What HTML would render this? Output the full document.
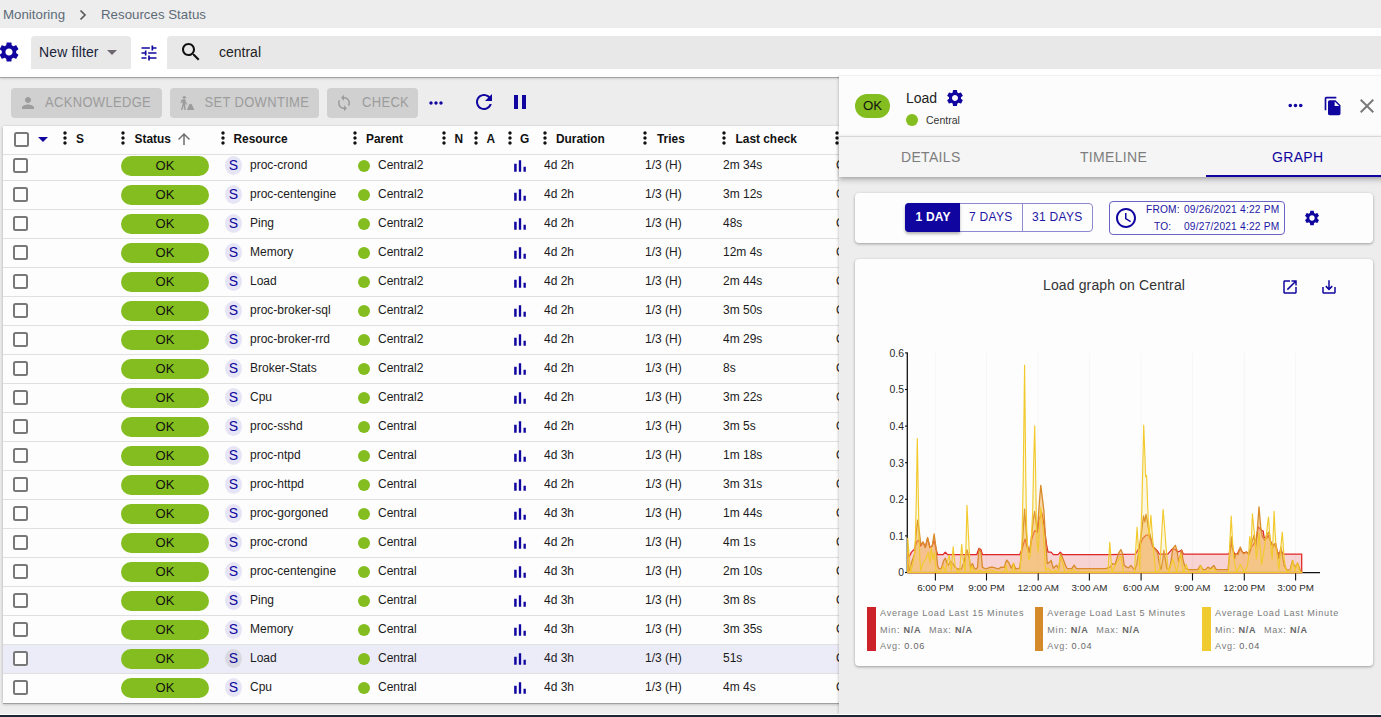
<!DOCTYPE html><html><head><meta charset="utf-8"><title>Resources Status</title><style>
*{box-sizing:border-box;margin:0;padding:0}
html,body{width:1381px;height:717px;overflow:hidden;background:#ededed;font-family:"Liberation Sans",sans-serif;color:#242f3a}
.abs{position:absolute}
.ic{position:absolute;display:block}
.t{position:absolute;white-space:nowrap;line-height:1}
#bc{left:0;top:0;width:1381px;height:28px;background:#ededed}
#fb{left:0;top:28px;width:1381px;height:49px;background:#fff;box-shadow:0 1px 0 #a2a2a2,0 2px 2px rgba(0,0,0,.12)}
.fbox{background:#e8e8e8;border-radius:4px 4px 0 0;top:36px;height:33px}
.btn{top:88px;height:30px;background:#d0d0d0;border-radius:4px}
#tbl{left:3px;top:126px;width:840px;height:577px;background:#fdfdfd;box-shadow:0 1px 0 #a0a0a0,0 1px 3px rgba(0,0,0,.3)}
.hd{font-weight:bold;font-size:11.900px;color:#111;top:134px}
.row{position:absolute;left:3px;width:840px;height:29px;border-top:1px solid #e0e0e0;font-size:12px}
.row.sel{background:#ecebf8}
.cb{position:absolute;left:10.200px;width:15px;height:15px;border:2px solid #787878;border-radius:2.500px;background:#fdfdfd}
.pill{position:absolute;left:118px;top:4px;width:88px;height:20px;border-radius:10px;background:#84bd1f;color:#111;font-size:13px;text-align:center;line-height:20px}
.chip{position:absolute;left:222px;top:4px;width:17px;height:19px;border-radius:8.500px/9.500px;background:#e6e5f5;color:#10069f;font-size:14px;text-align:center;line-height:18px}
.row.sel .chip{background:#d9d9e1}
.dot{position:absolute;width:12px;height:12px;border-radius:6px;background:#84bd1f}
.c{position:absolute;top:7px;white-space:nowrap;line-height:1;color:#1b1b1b}
#pn{left:839px;top:76px;width:550px;height:638px;background:#ededed;box-shadow:-1px 0 2px rgba(0,0,0,.16)}
#ph{left:839px;top:76px;width:550px;height:60px;background:#fcfcfc}
#tabs{left:839px;top:136px;width:550px;height:41px;background:#f5f5f5;box-shadow:0 2px 4px -1px rgba(0,0,0,.2),0 4px 5px 0 rgba(0,0,0,.14),0 -1px 3px rgba(0,0,0,.05);border-top:1px solid #d8d8d8}
.tab{position:absolute;top:150px;font-size:14px;letter-spacing:.32px;color:#7d7d7d;white-space:nowrap;line-height:1}
.card{background:#fdfdfd;border-radius:4px;box-shadow:0 1px 3px rgba(0,0,0,.35)}
.lg{position:absolute;font-size:9.100px;letter-spacing:.75px;color:#7b7b7b;white-space:nowrap;line-height:1}
.lg b{color:#666}
.ax{font-size:9.800px;fill:#2a2a2a;font-family:"Liberation Sans",sans-serif}
</style></head><body><div class="abs" id="bc"></div>
<div class="t" style="left:3px;top:7.500px;font-size:13.300px;color:#5d6b78">Monitoring</div>
<svg class="ic" style="left:78px;top:9px;width:10px;height:12px" viewBox="0 0 10 12"><path d="M2.5 1.5L7 6L2.5 10.500" fill="none" stroke="#5a5a5a" stroke-width="1.700"/></svg>
<div class="t" style="left:101px;top:7.500px;font-size:13.300px;color:#5d6b78">Resources Status</div>
<div class="abs" id="fb"></div>
<svg class="ic" style="left:-3.2px;top:40.3px;width:24px;height:24px;" viewBox="0 0 24 24"><path fill="#10069f" d="M19.14 12.94c.04-.3.06-.61.06-.94 0-.32-.02-.64-.07-.94l2.03-1.58c.18-.14.23-.41.12-.61l-1.92-3.32c-.12-.22-.37-.29-.59-.22l-2.39.96c-.5-.38-1.03-.7-1.62-.94l-.36-2.54c-.04-.24-.24-.41-.48-.41h-3.84c-.24 0-.43.17-.47.41l-.36 2.54c-.59.24-1.13.57-1.62.94l-2.39-.96c-.22-.08-.47 0-.59.22L2.74 8.87c-.12.21-.08.47.12.61l2.03 1.58c-.05.3-.09.63-.09.94s.02.64.07.94l-2.03 1.58c-.18.14-.23.41-.12.61l1.92 3.32c.12.22.37.29.59.22l2.39-.96c.5.38 1.03.7 1.62.94l.36 2.54c.05.24.24.41.48.41h3.84c.24 0 .44-.17.47-.41l.36-2.54c.59-.24 1.13-.56 1.62-.94l2.39.96c.22.08.47 0 .59-.22l1.92-3.32c.12-.22.07-.47-.12-.61l-2.01-1.58zM12 15.6c-1.98 0-3.6-1.62-3.6-3.6s1.62-3.6 3.6-3.6 3.6 1.62 3.6 3.6-1.62 3.6-3.6 3.6z"/></svg>
<div class="abs fbox" style="left:31px;width:100px"></div>
<div class="t" style="left:39px;top:45px;font-size:14px;letter-spacing:.13px;color:#1a1f3a">New filter</div>
<svg class="ic" style="left:107.200px;top:50px;width:10px;height:5px" viewBox="0 0 10 5"><path d="M0 0h10L5 5z" fill="#6d6870"/></svg>
<svg class="ic" style="left:139px;top:43px;width:20px;height:20px;" viewBox="0 0 24 24"><path fill="#10069f" d="M3 17v2h6v-2H3zM3 5v2h10V5H3zm10 16v-2h8v-2h-8v-2h-2v6h2zM7 9v2H3v2h4v2h2V9H7zm14 4v-2H11v2h10zm-6-4h2V7h4V5h-4V3h-2v6z"/></svg>
<div class="abs fbox" style="left:167px;width:1230px"></div>
<svg class="ic" style="left:179px;top:40px;width:24px;height:24px;" viewBox="0 0 24 24"><path fill="#111" d="M15.5 14h-.79l-.28-.27C15.41 12.59 16 11.11 16 9.5 16 5.91 13.09 3 9.5 3S3 5.91 3 9.5 5.91 16 9.5 16c1.61 0 3.09-.59 4.23-1.57l.27.28v.79l5 4.99L20.49 19l-4.99-5zm-6 0C7.01 14 5 11.99 5 9.5S7.01 5 9.5 5 14 7.01 14 9.5 11.99 14 9.5 14z"/></svg>
<div class="t" style="left:219px;top:45px;font-size:14px;color:#222">central</div>
<div class="abs btn" style="left:11px;width:151px"></div><svg class="ic" style="left:19.2px;top:94.0px;width:18px;height:18px;" viewBox="0 0 24 24"><path fill="#9c9c9c" d="M12 12c2.21 0 4-1.79 4-4s-1.79-4-4-4-4 1.79-4 4 1.79 4 4 4zm0 2c-2.67 0-8 1.34-8 4v2h16v-2c0-2.66-5.33-4-8-4z"/></svg><div class="t" style="left:45px;top:95.500px;font-size:13px;letter-spacing:.32px;color:#9c9c9c;transform:scaleY(1.1)">ACKNOWLEDGE</div>
<div class="abs btn" style="left:170px;width:149px"></div><svg class="ic" style="left:178px;top:94px;width:18px;height:18px" viewBox="0 0 18 18"><g fill="#9c9c9c"><circle cx="6.300" cy="3.400" r="1.350"/><rect x="4.300" y="2.900" width="4" height=".8" rx=".3"/><path d="M4.700 5.300L7.300 5.300L8 8.300L9.600 10.300L9 10.800L7.300 9L7.400 11L7.700 15.900L6.300 15.900L5.900 11.800L4.300 15.900L2.900 15.900L4.600 10.500L4.300 7L3.300 9.300L2.500 9L3.300 6.200Z"/><path d="M8.900 15.900L11.100 10.600Q12.500 8.700 13.900 10.600L16.400 15.900Z"/></g></svg><div class="t" style="left:204.5px;top:95.500px;font-size:13px;letter-spacing:.32px;color:#9c9c9c;transform:scaleY(1.1)">SET DOWNTIME</div>
<div class="abs btn" style="left:327px;width:91px"></div><svg class="ic" style="left:335px;top:94.0px;width:18px;height:18px;" viewBox="0 0 24 24"><path fill="#9c9c9c" d="M12 4V1L8 5l4 4V6c3.31 0 6 2.690 6 6 0 1.010-.25 1.970-.7 2.800l1.460 1.460C19.540 15.030 20 13.570 20 12c0-4.420-3.580-8-8-8zm0 14c-3.310 0-6-2.690-6-6 0-1.010.25-1.970.7-2.800L5.240 7.740C4.460 8.970 4 10.430 4 12c0 4.420 3.580 8 8 8v3l4-4-4-4v3z"/></svg><div class="t" style="left:362px;top:95.500px;font-size:13px;letter-spacing:.32px;color:#9c9c9c;transform:scaleY(1.1)">CHECK</div>
<svg class="ic" style="left:426px;top:93px;width:20px;height:20px;" viewBox="0 0 24 24"><path fill="#10069f" d="M6 10c-1.1 0-2 .9-2 2s.9 2 2 2 2-.9 2-2-.9-2-2-2zm12 0c-1.1 0-2 .9-2 2s.9 2 2 2 2-.9 2-2-.9-2-2-2zm-6 0c-1.1 0-2 .9-2 2s.9 2 2 2 2-.9 2-2-.9-2-2-2z"/></svg>
<svg class="ic" style="left:472px;top:90px;width:24px;height:24px;" viewBox="0 0 24 24"><path fill="#10069f" d="M17.65 6.35C16.2 4.9 14.21 4 12 4c-4.42 0-7.990 3.580-7.990 8s3.570 8 7.990 8c3.730 0 6.840-2.550 7.730-6h-2.080c-.82 2.330-3.040 4-5.650 4-3.310 0-6-2.690-6-6s2.690-6 6-6c1.660 0 3.140.69 4.220 1.780L13 11h7V4l-2.350 2.350z"/></svg>
<svg class="ic" style="left:508px;top:90px;width:24px;height:24px;" viewBox="0 0 24 24"><path fill="#10069f" d="M6 19h4V5H6v14zm8-14v14h4V5h-4z"/></svg>
<div class="abs" id="tbl"></div>
<div class="row" style="top:151px"><div class="cb" style="top:6.400px"></div><div class="pill">OK</div><div class="chip">S</div><div class="c" style="left:247px">proc-crond</div><div class="dot" style="left:355px;top:8px"></div><div class="c" style="left:375px">Central2</div><svg class="ic" style="left:506.700px;top:4px;width:20px;height:20px" viewBox="0 0 24 24"><path fill="#10069f" d="M5 9.2h3V19H5zM10.600 5h2.800v14h-2.800zm5.600 8H19v6h-2.800z"/></svg><div class="c" style="left:541px">4d 2h</div><div class="c" style="left:642px">1/3 (H)</div><div class="c" style="left:720px">2m 34s</div><div class="c" style="left:833px">O</div></div>
<div class="row" style="top:180px"><div class="cb" style="top:6.400px"></div><div class="pill">OK</div><div class="chip">S</div><div class="c" style="left:247px">proc-centengine</div><div class="dot" style="left:355px;top:8px"></div><div class="c" style="left:375px">Central2</div><svg class="ic" style="left:506.700px;top:4px;width:20px;height:20px" viewBox="0 0 24 24"><path fill="#10069f" d="M5 9.2h3V19H5zM10.600 5h2.800v14h-2.800zm5.600 8H19v6h-2.800z"/></svg><div class="c" style="left:541px">4d 2h</div><div class="c" style="left:642px">1/3 (H)</div><div class="c" style="left:720px">3m 12s</div><div class="c" style="left:833px">O</div></div>
<div class="row" style="top:209px"><div class="cb" style="top:6.400px"></div><div class="pill">OK</div><div class="chip">S</div><div class="c" style="left:247px">Ping</div><div class="dot" style="left:355px;top:8px"></div><div class="c" style="left:375px">Central2</div><svg class="ic" style="left:506.700px;top:4px;width:20px;height:20px" viewBox="0 0 24 24"><path fill="#10069f" d="M5 9.2h3V19H5zM10.600 5h2.800v14h-2.800zm5.600 8H19v6h-2.800z"/></svg><div class="c" style="left:541px">4d 2h</div><div class="c" style="left:642px">1/3 (H)</div><div class="c" style="left:720px">48s</div><div class="c" style="left:833px">O</div></div>
<div class="row" style="top:238px"><div class="cb" style="top:6.400px"></div><div class="pill">OK</div><div class="chip">S</div><div class="c" style="left:247px">Memory</div><div class="dot" style="left:355px;top:8px"></div><div class="c" style="left:375px">Central2</div><svg class="ic" style="left:506.700px;top:4px;width:20px;height:20px" viewBox="0 0 24 24"><path fill="#10069f" d="M5 9.2h3V19H5zM10.600 5h2.800v14h-2.800zm5.600 8H19v6h-2.800z"/></svg><div class="c" style="left:541px">4d 2h</div><div class="c" style="left:642px">1/3 (H)</div><div class="c" style="left:720px">12m 4s</div><div class="c" style="left:833px">O</div></div>
<div class="row" style="top:267px"><div class="cb" style="top:6.400px"></div><div class="pill">OK</div><div class="chip">S</div><div class="c" style="left:247px">Load</div><div class="dot" style="left:355px;top:8px"></div><div class="c" style="left:375px">Central2</div><svg class="ic" style="left:506.700px;top:4px;width:20px;height:20px" viewBox="0 0 24 24"><path fill="#10069f" d="M5 9.2h3V19H5zM10.600 5h2.800v14h-2.800zm5.600 8H19v6h-2.800z"/></svg><div class="c" style="left:541px">4d 2h</div><div class="c" style="left:642px">1/3 (H)</div><div class="c" style="left:720px">2m 44s</div><div class="c" style="left:833px">O</div></div>
<div class="row" style="top:296px"><div class="cb" style="top:6.400px"></div><div class="pill">OK</div><div class="chip">S</div><div class="c" style="left:247px">proc-broker-sql</div><div class="dot" style="left:355px;top:8px"></div><div class="c" style="left:375px">Central2</div><svg class="ic" style="left:506.700px;top:4px;width:20px;height:20px" viewBox="0 0 24 24"><path fill="#10069f" d="M5 9.2h3V19H5zM10.600 5h2.800v14h-2.800zm5.600 8H19v6h-2.800z"/></svg><div class="c" style="left:541px">4d 2h</div><div class="c" style="left:642px">1/3 (H)</div><div class="c" style="left:720px">3m 50s</div><div class="c" style="left:833px">O</div></div>
<div class="row" style="top:325px"><div class="cb" style="top:6.400px"></div><div class="pill">OK</div><div class="chip">S</div><div class="c" style="left:247px">proc-broker-rrd</div><div class="dot" style="left:355px;top:8px"></div><div class="c" style="left:375px">Central2</div><svg class="ic" style="left:506.700px;top:4px;width:20px;height:20px" viewBox="0 0 24 24"><path fill="#10069f" d="M5 9.2h3V19H5zM10.600 5h2.800v14h-2.800zm5.600 8H19v6h-2.800z"/></svg><div class="c" style="left:541px">4d 2h</div><div class="c" style="left:642px">1/3 (H)</div><div class="c" style="left:720px">4m 29s</div><div class="c" style="left:833px">O</div></div>
<div class="row" style="top:354px"><div class="cb" style="top:6.400px"></div><div class="pill">OK</div><div class="chip">S</div><div class="c" style="left:247px">Broker-Stats</div><div class="dot" style="left:355px;top:8px"></div><div class="c" style="left:375px">Central2</div><svg class="ic" style="left:506.700px;top:4px;width:20px;height:20px" viewBox="0 0 24 24"><path fill="#10069f" d="M5 9.2h3V19H5zM10.600 5h2.800v14h-2.800zm5.600 8H19v6h-2.800z"/></svg><div class="c" style="left:541px">4d 2h</div><div class="c" style="left:642px">1/3 (H)</div><div class="c" style="left:720px">8s</div><div class="c" style="left:833px">O</div></div>
<div class="row" style="top:383px"><div class="cb" style="top:6.400px"></div><div class="pill">OK</div><div class="chip">S</div><div class="c" style="left:247px">Cpu</div><div class="dot" style="left:355px;top:8px"></div><div class="c" style="left:375px">Central2</div><svg class="ic" style="left:506.700px;top:4px;width:20px;height:20px" viewBox="0 0 24 24"><path fill="#10069f" d="M5 9.2h3V19H5zM10.600 5h2.800v14h-2.800zm5.600 8H19v6h-2.800z"/></svg><div class="c" style="left:541px">4d 2h</div><div class="c" style="left:642px">1/3 (H)</div><div class="c" style="left:720px">3m 22s</div><div class="c" style="left:833px">O</div></div>
<div class="row" style="top:412px"><div class="cb" style="top:6.400px"></div><div class="pill">OK</div><div class="chip">S</div><div class="c" style="left:247px">proc-sshd</div><div class="dot" style="left:355px;top:8px"></div><div class="c" style="left:375px">Central</div><svg class="ic" style="left:506.700px;top:4px;width:20px;height:20px" viewBox="0 0 24 24"><path fill="#10069f" d="M5 9.2h3V19H5zM10.600 5h2.800v14h-2.800zm5.600 8H19v6h-2.800z"/></svg><div class="c" style="left:541px">4d 2h</div><div class="c" style="left:642px">1/3 (H)</div><div class="c" style="left:720px">3m 5s</div><div class="c" style="left:833px">O</div></div>
<div class="row" style="top:441px"><div class="cb" style="top:6.400px"></div><div class="pill">OK</div><div class="chip">S</div><div class="c" style="left:247px">proc-ntpd</div><div class="dot" style="left:355px;top:8px"></div><div class="c" style="left:375px">Central</div><svg class="ic" style="left:506.700px;top:4px;width:20px;height:20px" viewBox="0 0 24 24"><path fill="#10069f" d="M5 9.2h3V19H5zM10.600 5h2.800v14h-2.800zm5.600 8H19v6h-2.800z"/></svg><div class="c" style="left:541px">4d 3h</div><div class="c" style="left:642px">1/3 (H)</div><div class="c" style="left:720px">1m 18s</div><div class="c" style="left:833px">O</div></div>
<div class="row" style="top:470px"><div class="cb" style="top:6.400px"></div><div class="pill">OK</div><div class="chip">S</div><div class="c" style="left:247px">proc-httpd</div><div class="dot" style="left:355px;top:8px"></div><div class="c" style="left:375px">Central</div><svg class="ic" style="left:506.700px;top:4px;width:20px;height:20px" viewBox="0 0 24 24"><path fill="#10069f" d="M5 9.2h3V19H5zM10.600 5h2.800v14h-2.800zm5.600 8H19v6h-2.800z"/></svg><div class="c" style="left:541px">4d 2h</div><div class="c" style="left:642px">1/3 (H)</div><div class="c" style="left:720px">3m 31s</div><div class="c" style="left:833px">O</div></div>
<div class="row" style="top:499px"><div class="cb" style="top:6.400px"></div><div class="pill">OK</div><div class="chip">S</div><div class="c" style="left:247px">proc-gorgoned</div><div class="dot" style="left:355px;top:8px"></div><div class="c" style="left:375px">Central</div><svg class="ic" style="left:506.700px;top:4px;width:20px;height:20px" viewBox="0 0 24 24"><path fill="#10069f" d="M5 9.2h3V19H5zM10.600 5h2.800v14h-2.800zm5.600 8H19v6h-2.800z"/></svg><div class="c" style="left:541px">4d 3h</div><div class="c" style="left:642px">1/3 (H)</div><div class="c" style="left:720px">1m 44s</div><div class="c" style="left:833px">O</div></div>
<div class="row" style="top:528px"><div class="cb" style="top:6.400px"></div><div class="pill">OK</div><div class="chip">S</div><div class="c" style="left:247px">proc-crond</div><div class="dot" style="left:355px;top:8px"></div><div class="c" style="left:375px">Central</div><svg class="ic" style="left:506.700px;top:4px;width:20px;height:20px" viewBox="0 0 24 24"><path fill="#10069f" d="M5 9.2h3V19H5zM10.600 5h2.800v14h-2.800zm5.600 8H19v6h-2.800z"/></svg><div class="c" style="left:541px">4d 2h</div><div class="c" style="left:642px">1/3 (H)</div><div class="c" style="left:720px">4m 1s</div><div class="c" style="left:833px">O</div></div>
<div class="row" style="top:557px"><div class="cb" style="top:6.400px"></div><div class="pill">OK</div><div class="chip">S</div><div class="c" style="left:247px">proc-centengine</div><div class="dot" style="left:355px;top:8px"></div><div class="c" style="left:375px">Central</div><svg class="ic" style="left:506.700px;top:4px;width:20px;height:20px" viewBox="0 0 24 24"><path fill="#10069f" d="M5 9.2h3V19H5zM10.600 5h2.800v14h-2.800zm5.600 8H19v6h-2.800z"/></svg><div class="c" style="left:541px">4d 3h</div><div class="c" style="left:642px">1/3 (H)</div><div class="c" style="left:720px">2m 10s</div><div class="c" style="left:833px">O</div></div>
<div class="row" style="top:586px"><div class="cb" style="top:6.400px"></div><div class="pill">OK</div><div class="chip">S</div><div class="c" style="left:247px">Ping</div><div class="dot" style="left:355px;top:8px"></div><div class="c" style="left:375px">Central</div><svg class="ic" style="left:506.700px;top:4px;width:20px;height:20px" viewBox="0 0 24 24"><path fill="#10069f" d="M5 9.2h3V19H5zM10.600 5h2.800v14h-2.800zm5.600 8H19v6h-2.800z"/></svg><div class="c" style="left:541px">4d 3h</div><div class="c" style="left:642px">1/3 (H)</div><div class="c" style="left:720px">3m 8s</div><div class="c" style="left:833px">O</div></div>
<div class="row" style="top:615px"><div class="cb" style="top:6.400px"></div><div class="pill">OK</div><div class="chip">S</div><div class="c" style="left:247px">Memory</div><div class="dot" style="left:355px;top:8px"></div><div class="c" style="left:375px">Central</div><svg class="ic" style="left:506.700px;top:4px;width:20px;height:20px" viewBox="0 0 24 24"><path fill="#10069f" d="M5 9.2h3V19H5zM10.600 5h2.800v14h-2.800zm5.600 8H19v6h-2.800z"/></svg><div class="c" style="left:541px">4d 3h</div><div class="c" style="left:642px">1/3 (H)</div><div class="c" style="left:720px">3m 35s</div><div class="c" style="left:833px">O</div></div>
<div class="row sel" style="top:644px"><div class="cb" style="top:6.400px"></div><div class="pill">OK</div><div class="chip">S</div><div class="c" style="left:247px">Load</div><div class="dot" style="left:355px;top:8px"></div><div class="c" style="left:375px">Central</div><svg class="ic" style="left:506.700px;top:4px;width:20px;height:20px" viewBox="0 0 24 24"><path fill="#10069f" d="M5 9.2h3V19H5zM10.600 5h2.800v14h-2.800zm5.600 8H19v6h-2.800z"/></svg><div class="c" style="left:541px">4d 3h</div><div class="c" style="left:642px">1/3 (H)</div><div class="c" style="left:720px">51s</div><div class="c" style="left:833px">O</div></div>
<div class="row" style="top:673px"><div class="cb" style="top:6.400px"></div><div class="pill">OK</div><div class="chip">S</div><div class="c" style="left:247px">Cpu</div><div class="dot" style="left:355px;top:8px"></div><div class="c" style="left:375px">Central</div><svg class="ic" style="left:506.700px;top:4px;width:20px;height:20px" viewBox="0 0 24 24"><path fill="#10069f" d="M5 9.2h3V19H5zM10.600 5h2.800v14h-2.800zm5.600 8H19v6h-2.800z"/></svg><div class="c" style="left:541px">4d 3h</div><div class="c" style="left:642px">1/3 (H)</div><div class="c" style="left:720px">4m 4s</div><div class="c" style="left:833px">O</div></div>
<div class="abs" style="left:3px;top:126px;width:840px;height:29px;background:#fdfdfd;border-bottom:1px solid #e0e0e0"></div>
<div class="cb" style="left:13.500px;top:132px"></div>
<svg class="ic" style="left:38px;top:137px;width:10px;height:5px" viewBox="0 0 10 5"><path d="M0 0h10L5 5z" fill="#10069f"/></svg>
<svg class="ic" style="left:55px;top:128px;width:20px;height:20px" viewBox="0 0 24 24"><path fill="#111" d="M12 8c1.1 0 2-.9 2-2s-.9-2-2-2-2 .9-2 2 .9 2 2 2zm0 2c-1.1 0-2 .9-2 2s.9 2 2 2 2-.9 2-2-.9-2-2-2zm0 6c-1.1 0-2 .9-2 2s.9 2 2 2 2-.9 2-2-.9-2-2-2z"/></svg><div class="t hd" style="left:76px">S</div>
<svg class="ic" style="left:112.7px;top:128px;width:20px;height:20px" viewBox="0 0 24 24"><path fill="#111" d="M12 8c1.1 0 2-.9 2-2s-.9-2-2-2-2 .9-2 2 .9 2 2 2zm0 2c-1.1 0-2 .9-2 2s.9 2 2 2 2-.9 2-2-.9-2-2-2zm0 6c-1.1 0-2 .9-2 2s.9 2 2 2 2-.9 2-2-.9-2-2-2z"/></svg><div class="t hd" style="left:134.5px">Status</div>
<svg class="ic" style="left:175px;top:130.3px;width:18px;height:18px;" viewBox="0 0 24 24"><path fill="#6d6d6d" d="M4 12l1.410 1.410L11 7.830V20h2V7.830l5.580 5.590L20 12l-8-8-8 8z"/></svg>
<svg class="ic" style="left:212.5px;top:128px;width:20px;height:20px" viewBox="0 0 24 24"><path fill="#111" d="M12 8c1.1 0 2-.9 2-2s-.9-2-2-2-2 .9-2 2 .9 2 2 2zm0 2c-1.1 0-2 .9-2 2s.9 2 2 2 2-.9 2-2-.9-2-2-2zm0 6c-1.1 0-2 .9-2 2s.9 2 2 2 2-.9 2-2-.9-2-2-2z"/></svg><div class="t hd" style="left:233.5px">Resource</div>
<svg class="ic" style="left:345.3px;top:128px;width:20px;height:20px" viewBox="0 0 24 24"><path fill="#111" d="M12 8c1.1 0 2-.9 2-2s-.9-2-2-2-2 .9-2 2 .9 2 2 2zm0 2c-1.1 0-2 .9-2 2s.9 2 2 2 2-.9 2-2-.9-2-2-2zm0 6c-1.1 0-2 .9-2 2s.9 2 2 2 2-.9 2-2-.9-2-2-2z"/></svg><div class="t hd" style="left:366px">Parent</div>
<svg class="ic" style="left:433.5px;top:128px;width:20px;height:20px" viewBox="0 0 24 24"><path fill="#111" d="M12 8c1.1 0 2-.9 2-2s-.9-2-2-2-2 .9-2 2 .9 2 2 2zm0 2c-1.1 0-2 .9-2 2s.9 2 2 2 2-.9 2-2-.9-2-2-2zm0 6c-1.1 0-2 .9-2 2s.9 2 2 2 2-.9 2-2-.9-2-2-2z"/></svg><div class="t hd" style="left:454.5px">N</div>
<svg class="ic" style="left:466.4px;top:128px;width:20px;height:20px" viewBox="0 0 24 24"><path fill="#111" d="M12 8c1.1 0 2-.9 2-2s-.9-2-2-2-2 .9-2 2 .9 2 2 2zm0 2c-1.1 0-2 .9-2 2s.9 2 2 2 2-.9 2-2-.9-2-2-2zm0 6c-1.1 0-2 .9-2 2s.9 2 2 2 2-.9 2-2-.9-2-2-2z"/></svg><div class="t hd" style="left:486.5px">A</div>
<svg class="ic" style="left:500px;top:128px;width:20px;height:20px" viewBox="0 0 24 24"><path fill="#111" d="M12 8c1.1 0 2-.9 2-2s-.9-2-2-2-2 .9-2 2 .9 2 2 2zm0 2c-1.1 0-2 .9-2 2s.9 2 2 2 2-.9 2-2-.9-2-2-2zm0 6c-1.1 0-2 .9-2 2s.9 2 2 2 2-.9 2-2-.9-2-2-2z"/></svg><div class="t hd" style="left:520px">G</div>
<svg class="ic" style="left:535.4px;top:128px;width:20px;height:20px" viewBox="0 0 24 24"><path fill="#111" d="M12 8c1.1 0 2-.9 2-2s-.9-2-2-2-2 .9-2 2 .9 2 2 2zm0 2c-1.1 0-2 .9-2 2s.9 2 2 2 2-.9 2-2-.9-2-2-2zm0 6c-1.1 0-2 .9-2 2s.9 2 2 2 2-.9 2-2-.9-2-2-2z"/></svg><div class="t hd" style="left:556px">Duration</div>
<svg class="ic" style="left:635.4px;top:128px;width:20px;height:20px" viewBox="0 0 24 24"><path fill="#111" d="M12 8c1.1 0 2-.9 2-2s-.9-2-2-2-2 .9-2 2 .9 2 2 2zm0 2c-1.1 0-2 .9-2 2s.9 2 2 2 2-.9 2-2-.9-2-2-2zm0 6c-1.1 0-2 .9-2 2s.9 2 2 2 2-.9 2-2-.9-2-2-2z"/></svg><div class="t hd" style="left:657px">Tries</div>
<svg class="ic" style="left:714.4px;top:128px;width:20px;height:20px" viewBox="0 0 24 24"><path fill="#111" d="M12 8c1.1 0 2-.9 2-2s-.9-2-2-2-2 .9-2 2 .9 2 2 2zm0 2c-1.1 0-2 .9-2 2s.9 2 2 2 2-.9 2-2-.9-2-2-2zm0 6c-1.1 0-2 .9-2 2s.9 2 2 2 2-.9 2-2-.9-2-2-2z"/></svg><div class="t hd" style="left:735.5px">Last check</div>
<svg class="ic" style="left:827.2px;top:128px;width:20px;height:20px" viewBox="0 0 24 24"><path fill="#111" d="M12 8c1.1 0 2-.9 2-2s-.9-2-2-2-2 .9-2 2 .9 2 2 2zm0 2c-1.1 0-2 .9-2 2s.9 2 2 2 2-.9 2-2-.9-2-2-2zm0 6c-1.1 0-2 .9-2 2s.9 2 2 2 2-.9 2-2-.9-2-2-2z"/></svg><div class="t hd" style="left:850px"></div>
<div class="abs" id="pn"></div>
<div class="abs" id="ph"></div>
<div class="abs" style="left:855px;top:94px;width:35px;height:24px;border-radius:12px;background:#84bd1f;color:#111;font-size:13.300px;text-align:center;line-height:24px">OK</div>
<div class="t" style="left:906px;top:90.500px;font-size:14px;color:#222">Load</div>
<svg class="ic" style="left:945px;top:88px;width:20px;height:20px;" viewBox="0 0 24 24"><path fill="#10069f" d="M19.14 12.94c.04-.3.06-.61.06-.94 0-.32-.02-.64-.07-.94l2.03-1.58c.18-.14.23-.41.12-.61l-1.92-3.32c-.12-.22-.37-.29-.59-.22l-2.39.96c-.5-.38-1.03-.7-1.62-.94l-.36-2.54c-.04-.24-.24-.41-.48-.41h-3.84c-.24 0-.43.17-.47.41l-.36 2.54c-.59.24-1.13.57-1.62.94l-2.39-.96c-.22-.08-.47 0-.59.22L2.74 8.87c-.12.21-.08.47.12.61l2.03 1.58c-.05.3-.09.63-.09.94s.02.64.07.94l-2.03 1.58c-.18.14-.23.41-.12.61l1.92 3.32c.12.22.37.29.59.22l2.39-.96c.5.38 1.03.7 1.62.94l.36 2.54c.05.24.24.41.48.41h3.84c.24 0 .44-.17.47-.41l.36-2.54c.59-.24 1.13-.56 1.62-.94l2.39.96c.22.08.47 0 .59-.22l1.92-3.32c.12-.22.07-.47-.12-.61l-2.01-1.58zM12 15.6c-1.98 0-3.6-1.62-3.6-3.6s1.62-3.6 3.6-3.6 3.6 1.62 3.6 3.6-1.62 3.6-3.6 3.6z"/></svg>
<div class="dot" style="left:906px;top:114px"></div>
<div class="t" style="left:926px;top:114.500px;font-size:10.500px;color:#333">Central</div>
<svg class="ic" style="left:1284.5px;top:95.4px;width:21px;height:21px;" viewBox="0 0 24 24"><path fill="#10069f" d="M6 10c-1.1 0-2 .9-2 2s.9 2 2 2 2-.9 2-2-.9-2-2-2zm12 0c-1.1 0-2 .9-2 2s.9 2 2 2 2-.9 2-2-.9-2-2-2zm-6 0c-1.1 0-2 .9-2 2s.9 2 2 2 2-.9 2-2-.9-2-2-2z"/></svg>
<svg class="ic" style="left:1323.2px;top:95.9px;width:20px;height:20px;" viewBox="0 0 24 24"><path fill="#10069f" d="M16 1H4c-1.1 0-2 .9-2 2v14h2V3h12V1zm-1 4l6 6v10c0 1.100-.9 2-2 2H7.990C6.890 23 6 22.100 6 21l.010-14c0-1.100.890-2 1.990-2h7zm-1 7h5.500L14 6.500V12z"/></svg>
<svg class="ic" style="left:1355.1px;top:93.9px;width:24px;height:24px;" viewBox="0 0 24 24"><path fill="#7a7a7a" d="M19 6.410L17.590 5 12 10.590 6.410 5 5 6.410 10.590 12 5 17.590 6.410 19 12 13.410 17.590 19 19 17.590 13.410 12z"/></svg>
<div class="abs" id="tabs"></div>
<div class="tab" style="left:901px">DETAILS</div>
<div class="tab" style="left:1080px">TIMELINE</div>
<div class="tab" style="left:1272px;color:#10069f">GRAPH</div>
<div class="abs" style="left:1206px;top:175px;width:183px;height:2px;background:#10069f"></div>
<div class="abs card" style="left:855px;top:193px;width:518px;height:50px"></div>
<div class="abs" style="left:905px;top:203px;width:188px;height:29px;border:1px solid #8f8ad0;border-radius:4px;background:#fdfdfd"></div>
<div class="abs" style="left:905px;top:203px;width:55px;height:29px;border-radius:4px 0 0 4px;background:#10069f;box-shadow:0 2px 3px rgba(0,0,0,.3)"></div>
<div class="t" style="left:915.500px;top:211px;font-size:12px;letter-spacing:.2px;font-weight:bold;color:#fff">1 DAY</div>
<div class="abs" style="left:1022px;top:204px;width:1px;height:27px;background:#8f8ad0"></div>
<div class="t" style="left:969px;top:211px;font-size:12px;letter-spacing:.3px;color:#1e16a4">7 DAYS</div>
<div class="t" style="left:1032px;top:211px;font-size:12px;letter-spacing:.3px;color:#1e16a4">31 DAYS</div>
<div class="abs" style="left:1109px;top:201px;width:176px;height:34px;border:1px solid #6a64c4;border-radius:4px;background:#fdfdfd"></div>
<svg class="ic" style="left:1114px;top:205.9px;width:24px;height:24px;" viewBox="0 0 24 24"><path fill="#10069f" d="M11.990 2C6.470 2 2 6.480 2 12s4.470 10 9.990 10C17.520 22 22 17.520 22 12S17.520 2 11.990 2zM12 20c-4.420 0-8-3.580-8-8s3.580-8 8-8 8 3.580 8 8-3.580 8-8 8zm.5-13H11v6l5.250 3.150.75-1.230-4.500-2.670z"/></svg>
<div class="t" style="left:1146px;top:204.600px;font-size:10.200px;letter-spacing:.2px;color:#1e16a4">FROM:</div>
<div class="t" style="left:1184px;top:204.600px;font-size:10.200px;letter-spacing:.2px;color:#1e16a4">09/26/2021 4:22 PM</div>
<div class="t" style="left:1154px;top:221.500px;font-size:10.200px;letter-spacing:.2px;color:#1e16a4">TO:</div>
<div class="t" style="left:1184px;top:221.500px;font-size:10.200px;letter-spacing:.2px;color:#1e16a4">09/27/2021 4:22 PM</div>
<svg class="ic" style="left:1303px;top:208.6px;width:18px;height:18px;" viewBox="0 0 24 24"><path fill="#10069f" d="M19.14 12.94c.04-.3.06-.61.06-.94 0-.32-.02-.64-.07-.94l2.03-1.58c.18-.14.23-.41.12-.61l-1.92-3.32c-.12-.22-.37-.29-.59-.22l-2.39.96c-.5-.38-1.03-.7-1.62-.94l-.36-2.54c-.04-.24-.24-.41-.48-.41h-3.84c-.24 0-.43.17-.47.41l-.36 2.54c-.59.24-1.13.57-1.62.94l-2.39-.96c-.22-.08-.47 0-.59.22L2.74 8.87c-.12.21-.08.47.12.61l2.03 1.58c-.05.3-.09.63-.09.94s.02.64.07.94l-2.03 1.58c-.18.14-.23.41-.12.61l1.92 3.32c.12.22.37.29.59.22l2.39-.96c.5.38 1.03.7 1.62.94l.36 2.54c.05.24.24.41.48.41h3.84c.24 0 .44-.17.47-.41l.36-2.54c.59-.24 1.13-.56 1.62-.94l2.39.96c.22.08.47 0 .59-.22l1.92-3.32c.12-.22.07-.47-.12-.61l-2.01-1.58zM12 15.6c-1.98 0-3.6-1.62-3.6-3.6s1.62-3.6 3.6-3.6 3.6 1.62 3.6 3.6-1.62 3.6-3.6 3.6z"/></svg>
<div class="abs card" style="left:855px;top:259px;width:518px;height:407px"></div>
<div class="t" style="left:1043px;top:278px;font-size:14px;letter-spacing:.13px;color:#333">Load graph on Central</div>
<svg class="ic" style="left:1281px;top:278px;width:18px;height:18px;" viewBox="0 0 24 24"><path fill="#10069f" d="M19 19H5V5h7V3H5c-1.110 0-2 .9-2 2v14c0 1.100.890 2 2 2h14c1.100 0 2-.9 2-2v-7h-2v7zM14 3v2h3.590l-9.830 9.830 1.410 1.410L19 6.410V10h2V3h-7z"/></svg>
<svg class="ic" style="left:1320px;top:278px;width:18px;height:18px;" viewBox="0 0 24 24"><path fill="#10069f" d="M19 12v7H5v-7H3v7c0 1.100.9 2 2 2h14c1.100 0 2-.9 2-2v-7h-2zm-6 .670l2.590-2.580L17 11.500l-5 5-5-5 1.410-1.410L11 12.670V3h2z"/></svg>
<svg class="ic" style="left:0;top:0;width:1381px;height:717px" viewBox="0 0 1381 717"><line x1="935.4" y1="353" x2="935.4" y2="572.5" stroke="#f6f6f6" stroke-width="1"/><line x1="986.5" y1="353" x2="986.5" y2="572.5" stroke="#f6f6f6" stroke-width="1"/><line x1="1038.2" y1="353" x2="1038.2" y2="572.5" stroke="#f6f6f6" stroke-width="1"/><line x1="1089.4" y1="353" x2="1089.4" y2="572.5" stroke="#f6f6f6" stroke-width="1"/><line x1="1141.1" y1="353" x2="1141.1" y2="572.5" stroke="#f6f6f6" stroke-width="1"/><line x1="1192.5" y1="353" x2="1192.5" y2="572.5" stroke="#f6f6f6" stroke-width="1"/><line x1="1244.3" y1="353" x2="1244.3" y2="572.5" stroke="#f6f6f6" stroke-width="1"/><line x1="1295.6" y1="353" x2="1295.6" y2="572.5" stroke="#f6f6f6" stroke-width="1"/><line x1="907.3" y1="352.500" x2="907.3" y2="573" stroke="#111" stroke-width="1.300"/><line x1="907" y1="572.700" x2="1320" y2="572.700" stroke="#111" stroke-width="1.300"/><line x1="905" y1="572.5" x2="907.5" y2="572.5" stroke="#111" stroke-width="1.100"/><text class="ax" x="904" y="576.4" text-anchor="end" style="font-size:10.400px">0</text><line x1="905" y1="535.9" x2="907.5" y2="535.9" stroke="#111" stroke-width="1.100"/><text class="ax" x="904" y="539.8" text-anchor="end" style="font-size:10.400px">0.1</text><line x1="905" y1="499.3" x2="907.5" y2="499.3" stroke="#111" stroke-width="1.100"/><text class="ax" x="904" y="503.2" text-anchor="end" style="font-size:10.400px">0.2</text><line x1="905" y1="462.7" x2="907.5" y2="462.7" stroke="#111" stroke-width="1.100"/><text class="ax" x="904" y="466.6" text-anchor="end" style="font-size:10.400px">0.3</text><line x1="905" y1="426.1" x2="907.5" y2="426.1" stroke="#111" stroke-width="1.100"/><text class="ax" x="904" y="430.0" text-anchor="end" style="font-size:10.400px">0.4</text><line x1="905" y1="389.5" x2="907.5" y2="389.5" stroke="#111" stroke-width="1.100"/><text class="ax" x="904" y="393.4" text-anchor="end" style="font-size:10.400px">0.5</text><line x1="905" y1="352.9" x2="907.5" y2="352.9" stroke="#111" stroke-width="1.100"/><text class="ax" x="904" y="356.8" text-anchor="end" style="font-size:10.400px">0.6</text><line x1="935.4" y1="572.500" x2="935.4" y2="580.500" stroke="#111" stroke-width="1.100"/><text class="ax" x="935.4" y="591" text-anchor="middle">6:00 PM</text><line x1="986.5" y1="572.500" x2="986.5" y2="580.500" stroke="#111" stroke-width="1.100"/><text class="ax" x="986.5" y="591" text-anchor="middle">9:00 PM</text><line x1="1038.2" y1="572.500" x2="1038.2" y2="580.500" stroke="#111" stroke-width="1.100"/><text class="ax" x="1038.2" y="591" text-anchor="middle">12:00 AM</text><line x1="1089.4" y1="572.500" x2="1089.4" y2="580.500" stroke="#111" stroke-width="1.100"/><text class="ax" x="1089.4" y="591" text-anchor="middle">3:00 AM</text><line x1="1141.1" y1="572.500" x2="1141.1" y2="580.500" stroke="#111" stroke-width="1.100"/><text class="ax" x="1141.1" y="591" text-anchor="middle">6:00 AM</text><line x1="1192.5" y1="572.500" x2="1192.5" y2="580.500" stroke="#111" stroke-width="1.100"/><text class="ax" x="1192.5" y="591" text-anchor="middle">9:00 AM</text><line x1="1244.3" y1="572.500" x2="1244.3" y2="580.500" stroke="#111" stroke-width="1.100"/><text class="ax" x="1244.3" y="591" text-anchor="middle">12:00 PM</text><line x1="1295.6" y1="572.500" x2="1295.6" y2="580.500" stroke="#111" stroke-width="1.100"/><text class="ax" x="1295.6" y="591" text-anchor="middle">3:00 PM</text><path d="M907.7,552.1L909.2,556.7L911.5,552.1L914.6,549.0L916.9,541.4L918.4,540.1L920.7,546.0L923.0,542.1L925.3,547.5L927.6,538.3L929.9,547.5L932.2,546.0L934.1,539.8L936.0,549.0L937.6,554.7L943.0,554.7L945.3,552.1L947.6,554.7L976.7,554.7L979.0,548.3L981.0,549.8L982.5,554.7L1019.7,554.7L1022.0,549.0L1025.0,539.1L1027.3,547.5L1029.6,552.1L1031.9,538.3L1034.7,530.6L1037.3,532.2L1038.8,519.9L1041.9,513.0L1044.2,526.0L1046.5,544.4L1048.0,552.1L1051.1,552.1L1053.4,554.7L1058.0,554.7L1060.3,552.1L1062.6,554.7L1110.0,554.7L1135.1,554.2L1136.8,552.0L1139.3,547.0L1142.6,538.6L1146.0,535.2L1148.8,535.2L1151.0,540.3L1152.7,547.0L1155.2,548.6L1157.7,551.2L1159.4,554.2L1167.8,554.2L1171.1,550.3L1172.8,548.6L1175.3,549.5L1177.8,552.0L1180.0,551.2L1181.7,550.0L1183.3,554.2L1228.0,554.2L1229.2,553.7L1230.9,543.6L1233.1,550.3L1234.7,554.2L1237.2,554.2L1239.8,548.6L1242.3,552.0L1243.9,552.8L1246.4,552.0L1249.0,554.2L1251.5,547.0L1254.0,543.6L1256.5,538.6L1258.2,526.9L1259.8,528.6L1261.5,530.2L1263.2,531.1L1264.0,536.9L1266.5,538.6L1268.2,535.2L1270.7,541.9L1273.2,545.3L1275.7,543.6L1277.4,552.0L1279.1,554.2L1280.8,550.3L1283.3,554.2L1301.7,554.2L1301.7,572.5L907.7,572.5Z" fill="rgba(224,32,32,0.19)" stroke="#e02525" stroke-width="1.250" stroke-linejoin="round"/><path d="M907.7,562.8L909.2,570.5L911.5,562.8L914.6,553.6L916.1,533.7L917.6,520.2L919.2,530.6L920.7,544.4L923.0,542.1L925.3,547.5L927.6,537.5L929.9,547.5L932.2,546.0L934.1,534.0L936.0,547.5L937.6,565.9L939.1,569.0L941.4,568.2L943.7,560.5L945.3,558.2L946.8,562.8L948.3,565.1L950.6,561.3L952.9,563.6L955.2,567.4L957.5,569.0L961.4,569.0L963.7,562.8L965.2,556.7L967.0,549.8L969.0,556.7L970.6,567.4L972.4,563.6L974.4,568.2L975.9,569.3L977.5,567.4L978.5,553.6L979.3,549.0L981.0,552.1L982.5,567.4L985.9,569.0L989.7,567.4L992.0,567.1L994.3,567.7L998.2,569.0L1001.2,567.1L1004.3,567.4L1005.8,562.1L1006.9,560.1L1008.9,562.8L1011.2,568.2L1013.5,563.6L1015.8,569.0L1019.7,568.2L1022.0,549.0L1023.5,526.0L1024.6,509.1L1025.8,526.0L1027.3,544.4L1029.6,552.1L1031.9,532.2L1033.5,518.3L1034.7,511.4L1036.2,523.0L1037.3,530.6L1038.8,510.7L1039.9,495.3L1040.8,485.4L1042.4,498.4L1043.9,510.7L1045.7,541.4L1047.3,563.6L1049.6,562.1L1051.1,560.5L1053.4,568.2L1056.5,565.1L1058.8,569.0L1060.8,553.6L1063.4,559.8L1065.7,565.9L1067.2,568.7L1071.8,568.7L1074.1,565.1L1076.4,568.7L1105.6,568.7L1110.0,567.1L1112.5,563.7L1115.0,564.5L1118.4,553.7L1120.9,549.5L1122.6,553.7L1124.2,565.4L1126.7,567.1L1128.4,567.9L1130.9,565.4L1133.4,568.7L1135.1,569.6L1136.8,563.7L1139.3,547.0L1141.8,530.2L1143.5,516.0L1144.8,521.9L1146.0,514.3L1147.2,520.2L1148.5,528.6L1150.2,535.2L1151.9,541.9L1153.5,547.0L1156.0,550.3L1157.7,553.7L1159.4,563.7L1161.1,569.6L1162.7,560.4L1163.9,550.3L1165.2,558.7L1166.9,568.7L1169.4,569.6L1171.1,560.4L1172.8,548.6L1175.3,545.3L1177.0,550.3L1178.6,562.0L1180.3,555.3L1181.7,550.3L1182.8,558.7L1184.5,565.4L1186.2,568.7L1188.7,569.6L1197.9,569.6L1200.4,565.4L1202.9,569.6L1205.4,569.6L1207.9,567.1L1210.5,568.7L1213.8,565.4L1216.3,569.6L1228.0,569.6L1229.7,553.7L1231.4,536.9L1233.1,550.3L1234.7,558.7L1235.6,553.7L1238.1,554.5L1240.3,547.0L1242.3,552.0L1243.9,553.7L1246.4,552.0L1249.0,554.5L1251.5,543.6L1254.0,535.2L1255.7,547.0L1257.3,530.2L1259.0,506.8L1260.7,526.9L1262.4,536.9L1264.9,540.3L1266.5,535.2L1269.0,531.9L1270.7,541.9L1273.2,547.0L1274.9,543.6L1277.4,552.0L1279.1,558.7L1280.8,547.0L1282.4,555.3L1284.1,565.4L1286.6,569.6L1290.0,570.4L1292.5,560.4L1294.2,565.4L1295.8,567.1L1297.5,562.9L1300.0,569.6L1301.7,572.1L1301.7,572.5L907.7,572.5Z" fill="rgba(242,172,70,0.47)" stroke="#d98b2b" stroke-width="1.300" stroke-linejoin="round"/><path d="M907.7,538.3L908.9,552.1L910.0,565.9L910.7,572.0L913.0,562.8L914.6,553.6L915.3,541.4L916.4,495.3L917.3,438.6L918.3,495.3L919.2,541.4L919.9,559.8L920.7,570.5L923.0,562.8L925.3,559.8L926.8,555.9L928.4,552.1L929.9,562.8L931.4,547.5L933.0,559.8L934.5,552.1L936.0,570.5L940.7,572.0L943.0,565.9L945.3,572.0L947.2,562.8L949.1,555.2L950.6,565.9L951.4,570.5L952.3,556.7L953.2,546.7L954.1,556.7L955.2,565.9L957.5,572.0L959.8,570.5L960.7,556.7L961.7,544.4L962.6,553.6L963.7,562.8L965.2,572.0L966.1,541.4L967.0,505.3L968.0,526.0L969.0,546.0L970.3,572.0L972.1,565.9L974.4,572.0L979.8,570.5L983.6,572.0L990.5,569.7L993.6,570.5L995.9,572.0L1004.3,572.0L1005.8,565.1L1007.4,572.0L1012.0,572.0L1013.5,562.8L1015.0,572.0L1019.7,572.0L1021.2,553.6L1022.0,541.4L1023.2,480.0L1024.6,365.0L1025.8,480.0L1026.6,526.0L1027.6,549.0L1028.9,559.8L1030.4,553.6L1031.6,533.7L1032.7,510.7L1033.6,464.7L1034.7,425.9L1035.6,472.3L1036.5,530.6L1037.3,544.4L1038.1,552.1L1039.3,530.6L1040.8,507.6L1042.2,519.9L1043.4,533.7L1044.7,556.7L1045.7,570.5L1048.0,568.2L1051.9,572.0L1054.9,570.5L1058.0,572.0L1060.3,555.9L1062.6,562.8L1064.9,572.0L1073.3,569.7L1075.6,572.0L1107.9,572.0L1107.9,572.5L1109.8,542.3L1111.9,572.5L1115.9,564.3L1120.7,556.3L1123.8,572.5L1134.4,572.5L1135.8,548.4L1137.1,527.2L1138.7,553.7L1139.7,569.6L1140.8,537.8L1141.9,506.0L1143.7,425.2L1144.8,453.0L1145.6,476.8L1146.6,475.5L1147.7,506.0L1149.0,537.8L1150.9,515.3L1151.9,529.8L1153.0,543.1L1155.6,572.5L1159.6,569.6L1161.5,537.8L1163.1,509.4L1164.4,524.5L1165.7,543.1L1168.4,572.5L1172.9,559.0L1176.8,572.5L1179.0,561.6L1180.8,553.7L1182.1,564.3L1183.5,572.5L1186.1,564.3L1188.8,572.5L1198.0,572.5L1200.7,565.6L1203.3,572.5L1213.9,568.3L1216.6,572.5L1228.5,572.5L1229.8,543.1L1231.2,516.1L1232.5,540.4L1233.8,559.0L1236.5,572.5L1240.4,564.3L1244.4,572.5L1247.1,566.9L1248.4,559.0L1249.7,536.5L1251.0,548.4L1252.4,513.9L1253.7,527.2L1255.0,537.8L1256.3,559.0L1257.7,548.4L1259.0,532.5L1260.3,548.4L1261.6,564.3L1263.0,556.3L1264.3,548.4L1266.4,535.1L1267.5,524.5L1268.5,517.1L1269.6,532.5L1270.9,548.4L1272.2,559.0L1273.3,532.5L1274.1,511.3L1275.1,532.5L1276.2,548.4L1278.9,569.6L1280.7,548.4L1282.3,532.0L1283.4,548.4L1284.2,559.0L1286.8,572.5L1290.8,569.6L1292.9,560.3L1294.8,570.9L1297.4,563.0L1300.1,572.5L1301.9,572.5L1301.9,572.5L907.7,572.5Z" fill="rgba(245,215,80,0.16)" stroke="#f2ca2e" stroke-width="1.150" stroke-linejoin="round"/></svg>
<div class="abs" style="left:867.3px;top:607px;width:8.500px;height:43.500px;background:#cc2229"></div><div class="lg" style="left:880.0px;top:609px">Average Load Last 15 Minutes</div><div class="lg" style="left:880.0px;top:626px">Min: <b>N/A</b><span style="margin-left:7.500px">Max: </span><b>N/A</b></div><div class="lg" style="left:880.0px;top:642px">Avg: <span style="color:#666">0.06</span></div>
<div class="abs" style="left:1034.6px;top:607px;width:8.500px;height:43.500px;background:#d48a2a"></div><div class="lg" style="left:1047.3px;top:609px">Average Load Last 5 Minutes</div><div class="lg" style="left:1047.3px;top:626px">Min: <b>N/A</b><span style="margin-left:7.500px">Max: </span><b>N/A</b></div><div class="lg" style="left:1047.3px;top:642px">Avg: <span style="color:#666">0.04</span></div>
<div class="abs" style="left:1202.3px;top:607px;width:8.500px;height:43.500px;background:#f0cb2f"></div><div class="lg" style="left:1215.0px;top:609px">Average Load Last Minute</div><div class="lg" style="left:1215.0px;top:626px">Min: <b>N/A</b><span style="margin-left:7.500px">Max: </span><b>N/A</b></div><div class="lg" style="left:1215.0px;top:642px">Avg: <span style="color:#666">0.04</span></div>
<div class="abs" style="left:0;top:714px;width:1381px;height:1px;background:#fff"></div>
<div class="abs" style="left:0;top:715px;width:1381px;height:2px;background:#1a2632"></div></body></html>
